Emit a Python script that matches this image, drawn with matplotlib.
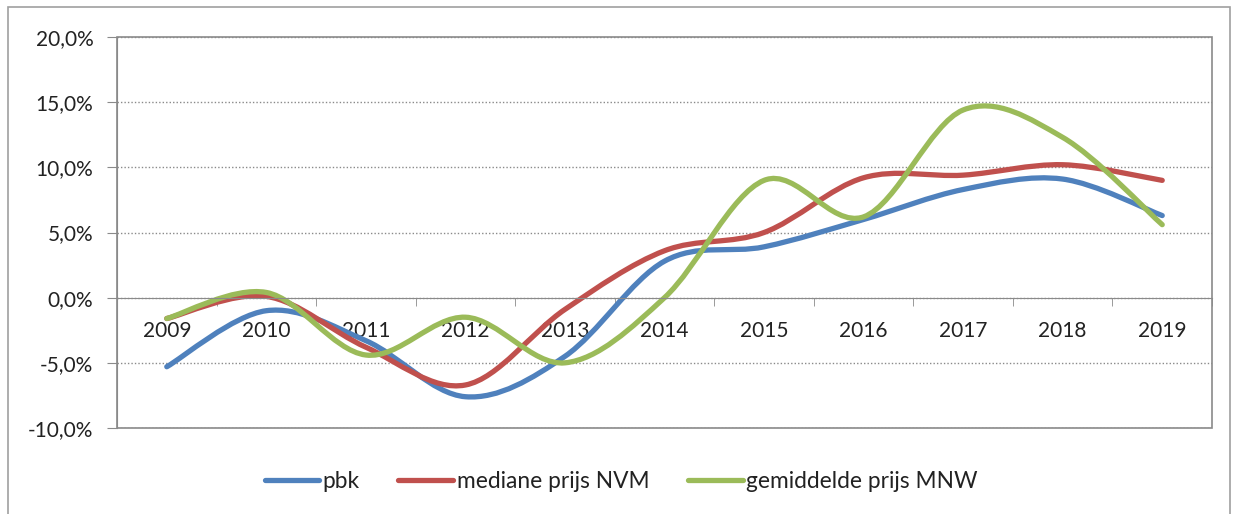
import matplotlib.pyplot as plt
from matplotlib.path import Path
from matplotlib.patches import PathPatch, Rectangle
from matplotlib.lines import Line2D
from matplotlib.ticker import FuncFormatter, FixedLocator
import numpy as np

plt.rcParams['font.family'] = ['Lato', 'DejaVu Sans']

years = ['2009', '2010', '2011', '2012', '2013', '2014',
         '2015', '2016', '2017', '2018', '2019']
pbk = [-5.3, -1.0, -3.3, -7.6, -4.5, 2.8, 3.9, 6.0, 8.3, 9.1, 6.3]
nvm = [-1.6, 0.1, -3.8, -6.7, -0.9, 3.6, 5.0, 9.2, 9.4, 10.2, 9.0]
mnw = [-1.6, 0.4, -4.4, -1.5, -5.0, 0.0, 9.0, 6.2, 14.4, 12.3, 5.6]

series = [('pbk', pbk, '#4F81BD'),
          ('mediane prijs NVM', nvm, '#C0504D'),
          ('gemiddelde prijs MNW', mnw, '#9BBB59')]


def smooth_path(x, y):
    # Excel-style smoothed line: cubic bezier through every point
    pts = np.column_stack([x, y]).astype(float)
    n = len(pts)
    verts = [pts[0]]
    codes = [Path.MOVETO]
    for i in range(n - 1):
        p_prev = pts[i - 1] if i > 0 else pts[i]
        p_next2 = pts[i + 2] if i + 2 < n else pts[i + 1]
        c1 = pts[i] + (pts[i + 1] - p_prev) / 6
        c2 = pts[i + 1] - (p_next2 - pts[i]) / 6
        verts += [c1, c2, pts[i + 1]]
        codes += [Path.CURVE4] * 3
    return Path(verts, codes)


W, H = 1236, 514
fig = plt.figure(figsize=(W / 100, H / 100), dpi=100)
fig.patches.append(Rectangle((8 / W, -0.1), (1230 - 8) / W, 1.1 - 7 / H,
                             transform=fig.transFigure, fill=False,
                             edgecolor='#a0a0a0', linewidth=1.2))

ax = fig.add_axes([117 / W, 1 - 428 / H, (1212 - 117) / W, (428 - 37) / H])
x = np.arange(len(years))

for name, vals, col in series:
    patch = PathPatch(smooth_path(x, vals), fill=False, edgecolor=col,
                      linewidth=3.8, capstyle='round', joinstyle='round')
    ax.add_patch(patch)

ax.set_xlim(-0.5, len(years) - 0.5)
ax.set_ylim(-10, 20)
ax.set_yticks(np.arange(-10, 21, 5))
ax.yaxis.set_major_formatter(FuncFormatter(lambda v, p: f'{v:.1f}%'.replace('.', ',')))
ax.grid(axis='y', linestyle=(0, (1, 1.5)), color='#8a8a8a', linewidth=1)
ax.set_axisbelow(True)

# plot area frame
ax.patch.set_edgecolor('#8a8a8a')
ax.patch.set_linewidth(1.2)
for s in ['top', 'right']:
    ax.spines[s].set_visible(False)
ax.spines['left'].set_color('#8a8a8a')
ax.spines['bottom'].set_color('#8a8a8a')
ax.spines['bottom'].set_position(('data', 0))

ax.set_xticks(x)
ax.set_xticklabels(years)
ax.xaxis.set_minor_locator(FixedLocator(np.arange(-0.5, len(years), 1.0)))
ax.tick_params(axis='x', which='major', length=0, pad=17, labelsize=15, colors='#222222')
ax.tick_params(axis='x', which='minor', length=6, color='#8a8a8a')
ax.tick_params(axis='y', length=7, color='#8a8a8a', pad=10, labelsize=15, labelcolor='#222222')

handles = [Line2D([], [], color=c, linewidth=3.8, solid_capstyle='round') for _, _, c in series]
fig.legend(handles, [s[0] for s in series], loc='center', bbox_to_anchor=(621 / W, 1 - 481 / H),
           ncol=3, frameon=False, fontsize=16.4, handlelength=2.4, handletextpad=0.15,
           columnspacing=1.7, labelcolor='#222222')

plt.savefig('out.png', dpi=100)
